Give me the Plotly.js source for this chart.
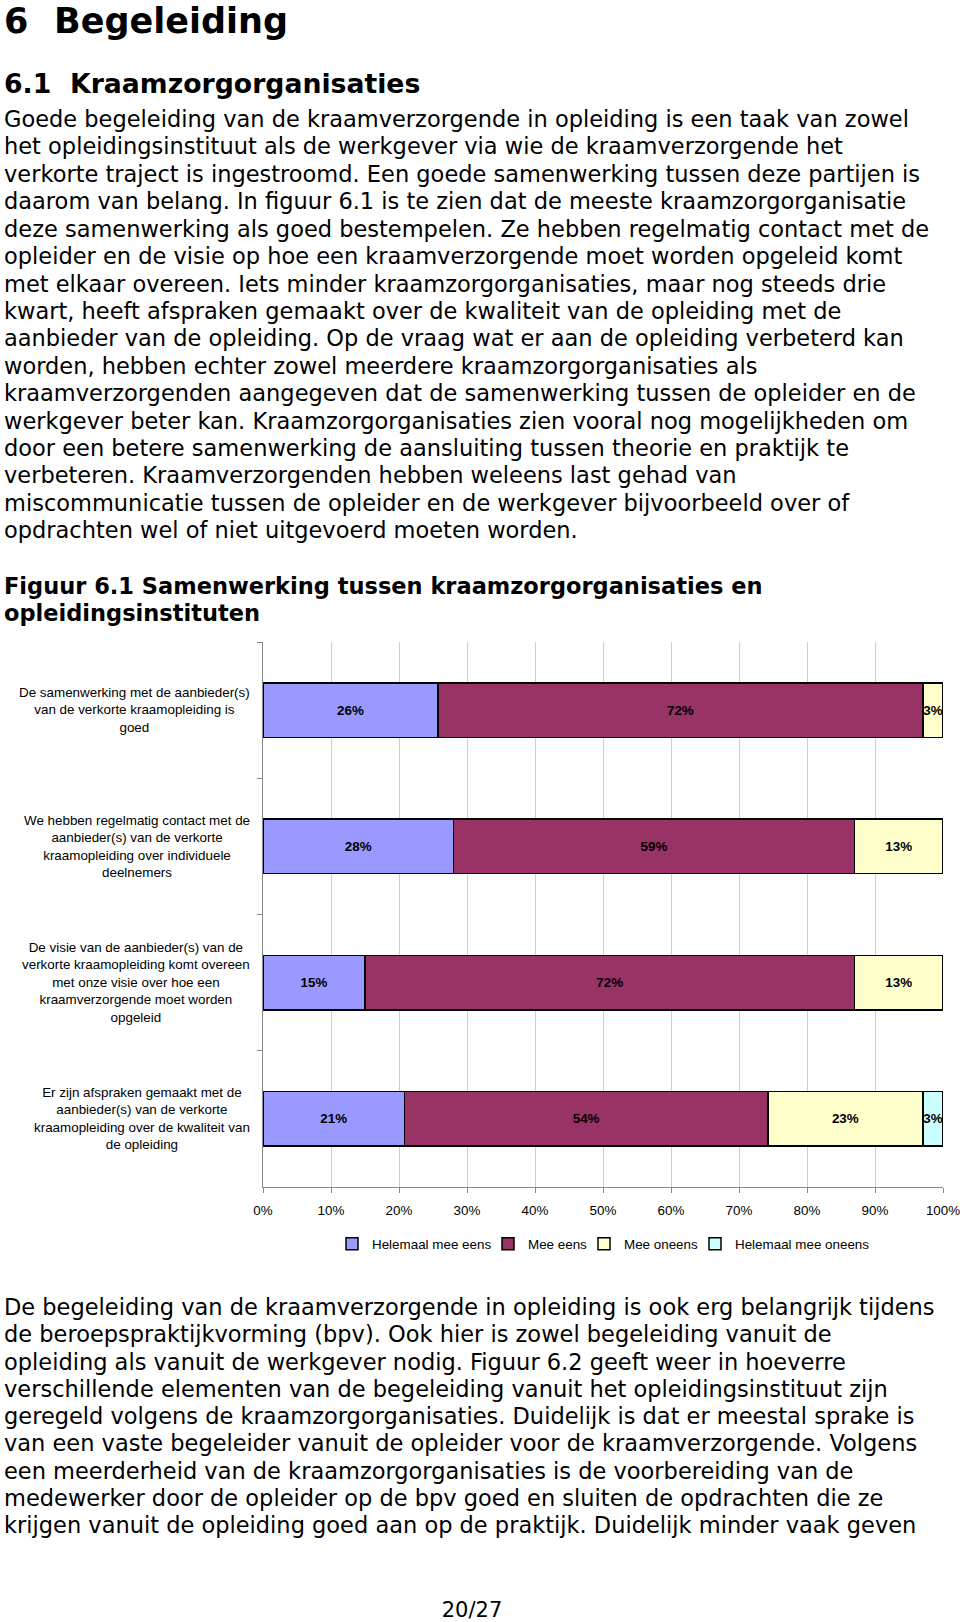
<!DOCTYPE html>
<html>
<head>
<meta charset="utf-8">
<script src="https://cdn.plot.ly/plotly-3.0.1.min.js"></script>
<style>
html,body{margin:0;padding:0;background:#fff;}
body{width:960px;height:1622px;position:relative;overflow:hidden;font-family:"DejaVu Sans",Verdana,sans-serif;color:#000;}
.t{position:absolute;left:4px;white-space:pre;font-size:22.5px;line-height:27.3px;}
.b{font-weight:bold;}
#chart{position:absolute;left:0;top:620px;width:960px;height:650px;}
</style>
</head>
<body>
<div class="t b" style="top:2px;font-size:35px;line-height:1.1;">6</div>
<div class="t b" style="top:2px;left:54px;font-size:35px;line-height:1.1;">Begeleiding</div>
<div class="t b" style="top:69px;font-size:26.7px;line-height:1.1;">6.1</div>
<div class="t b" style="top:69px;left:70px;font-size:26.7px;line-height:1.1;">Kraamzorgorganisaties</div>
<div class="t" style="top:106px;line-height:27.42px;">Goede begeleiding van de kraamverzorgende in opleiding is een taak van zowel
het opleidingsinstituut als de werkgever via wie de kraamverzorgende het
verkorte traject is ingestroomd. Een goede samenwerking tussen deze partijen is
daarom van belang. In figuur 6.1 is te zien dat de meeste kraamzorgorganisatie
deze samenwerking als goed bestempelen. Ze hebben regelmatig contact met de
opleider en de visie op hoe een kraamverzorgende moet worden opgeleid komt
met elkaar overeen. Iets minder kraamzorgorganisaties, maar nog steeds drie
kwart, heeft afspraken gemaakt over de kwaliteit van de opleiding met de
aanbieder van de opleiding. Op de vraag wat er aan de opleiding verbeterd kan
worden, hebben echter zowel meerdere kraamzorgorganisaties als
kraamverzorgenden aangegeven dat de samenwerking tussen de opleider en de
werkgever beter kan. Kraamzorgorganisaties zien vooral nog mogelijkheden om
door een betere samenwerking de aansluiting tussen theorie en praktijk te
verbeteren. Kraamverzorgenden hebben weleens last gehad van
miscommunicatie tussen de opleider en de werkgever bijvoorbeeld over of
opdrachten wel of niet uitgevoerd moeten worden.</div>
<div class="t b" style="top:573px;">Figuur 6.1 Samenwerking tussen kraamzorgorganisaties en
opleidingsinstituten</div>
<div id="chart"></div>
<div class="t" style="top:1294px;">De begeleiding van de kraamverzorgende in opleiding is ook erg belangrijk tijdens
de beroepspraktijkvorming (bpv). Ook hier is zowel begeleiding vanuit de
opleiding als vanuit de werkgever nodig. Figuur 6.2 geeft weer in hoeverre
verschillende elementen van de begeleiding vanuit het opleidingsinstituut zijn
geregeld volgens de kraamzorgorganisaties. Duidelijk is dat er meestal sprake is
van een vaste begeleider vanuit de opleider voor de kraamverzorgende. Volgens
een meerderheid van de kraamzorgorganisaties is de voorbereiding van de
medewerker door de opleider op de bpv goed en sluiten de opdrachten die ze
krijgen vanuit de opleiding goed aan op de praktijk. Duidelijk minder vaak geven</div>
<div class="t" style="top:1598px;left:0;width:944px;text-align:center;font-size:21px;line-height:24px;">20/27</div>
<script>
const categories = [
  "De samenwerking met de aanbieder(s)<br>van de verkorte kraamopleiding is<br>goed",
  "We hebben regelmatig contact met de<br>aanbieder(s) van de verkorte<br>kraamopleiding over individuele<br>deelnemers",
  "De visie van de aanbieder(s) van de<br>verkorte kraamopleiding komt overeen<br>met onze visie over hoe een<br>kraamverzorgende moet worden<br>opgeleid",
  "Er zijn afspraken gemaakt met de<br>aanbieder(s) van de verkorte<br>kraamopleiding over de kwaliteit van<br>de opleiding"
];
const seriesNames = ["Helemaal mee eens", "Mee eens", "Mee oneens", "Helemaal mee oneens"];
const helemaalMeeEens = [26, 28, 15, 21];
const meeEens = [72, 59, 72, 54];
const meeOneens = [3, 13, 13, 23];
const helemaalMeeOneens = [null, null, null, 3];
const seriesColors = ["#9999FF", "#993366", "#FFFFCC", "#CCFFFF"];
const xTickVals = [0, 10, 20, 30, 40, 50, 60, 70, 80, 90, 100];
const xTickText = ["0%", "10%", "20%", "30%", "40%", "50%", "60%", "70%", "80%", "90%", "100%"];

const FONT = "Liberation Sans, Arial, sans-serif";
const FS = 13.4;
const seriesValues = [helemaalMeeEens, meeEens, meeOneens, helemaalMeeOneens];
// compact legend entries (style only)
const legendEntryWidths = [111, 51, 66, 134];

const traces = seriesValues.map((vals, i) => ({
  type: "bar",
  orientation: "h",
  name: seriesNames[i],
  y: categories,
  x: vals,
  text: vals.map(v => (v === null ? "" : v + "%")),
  textposition: "inside",
  insidetextanchor: "middle",
  textangle: 0,
  textfont: {family: FONT, size: FS, color: "#000", weight: "bold"},
  marker: {color: seriesColors[i], line: {color: "#000", width: 1.5}},
  legendwidth: legendEntryWidths[i],
  hoverinfo: "none"
}));

const annotations = categories.map(c => ({
  xref: "paper", yref: "y",
  x: -0.0162, y: c,
  xanchor: "right", yanchor: "middle",
  align: "center",
  text: c,
  showarrow: false,
  font: {family: FONT, size: FS, color: "#000"}
}));

const layout = {
  barmode: "stack",
  barnorm: "percent",
  bargap: 0.6,
  margin: {l: 263, r: 17, t: 22, b: 82},
  paper_bgcolor: "rgba(0,0,0,0)",
  plot_bgcolor: "#fff",
  uniformtext: {minsize: FS, mode: "show"},
  xaxis: {
    range: [0, 100],
    tickvals: xTickVals,
    ticktext: xTickText,
    showgrid: true,
    gridcolor: "#cccccc",
    gridwidth: 1,
    zeroline: false,
    showline: true,
    linecolor: "#888888",
    linewidth: 1,
    ticks: "outside",
    ticklen: 5,
    tickcolor: "#888888",
    ticklabelstandoff: 6,
    ticklabeloverflow: "allow",
    tickfont: {family: FONT, size: FS, color: "#000"},
    fixedrange: true
  },
  yaxis: {
    type: "category",
    autorange: "reversed",
    showticklabels: false,
    showgrid: false,
    zeroline: false,
    showline: true,
    linecolor: "#888888",
    ticks: "outside",
    tickson: "boundaries",
    ticklen: 5,
    tickcolor: "#888888",
    fixedrange: true
  },
  showlegend: true,
  legend: {
    orientation: "h",
    x: 0.5, xanchor: "center",
    y: -0.1026, yanchor: "middle",
    font: {family: FONT, size: FS, color: "#000"},
    traceorder: "normal",
    itemwidth: 30,
    bgcolor: "rgba(0,0,0,0)"
  },
  annotations: annotations
};

Plotly.newPlot("chart", traces, layout, {staticPlot: true, displayModeBar: false});
</script>
</body>
</html>
